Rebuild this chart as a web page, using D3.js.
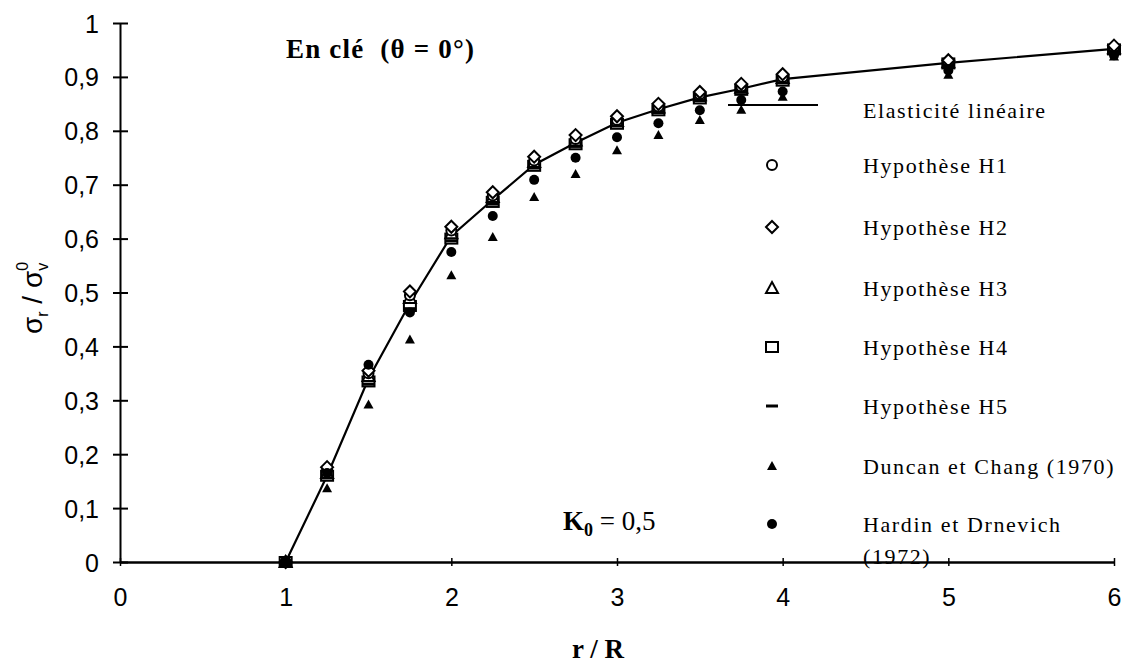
<!DOCTYPE html>
<html><head><meta charset="utf-8">
<script src="https://cdn.jsdelivr.net/npm/d3@7"></script>
<style>body{margin:0;background:#fff;} svg{display:block;}</style>
</head><body>
<svg id="chart" width="1135" height="668"></svg>
<script>
// ---- data ----
const rValues = [1, 1.25, 1.5, 1.75, 2, 2.25, 2.5, 2.75, 3, 3.25, 3.5, 3.75, 4, 5, 6];
const elastic = [0, 0.160, 0.340, 0.480, 0.605, 0.672, 0.737, 0.778, 0.815, 0.840, 0.862, 0.878, 0.896, 0.926, 0.952];
const h1 = [0, 0.172, 0.350, 0.495, 0.615, 0.680, 0.745, 0.785, 0.820, 0.845, 0.868, 0.882, 0.900, 0.928, 0.955];
const h2 = [0, 0.176, 0.355, 0.502, 0.622, 0.686, 0.752, 0.792, 0.827, 0.850, 0.872, 0.887, 0.905, 0.931, 0.958];
const h3 = [0, 0.165, 0.345, 0.490, 0.610, 0.677, 0.742, 0.782, 0.818, 0.843, 0.866, 0.880, 0.898, 0.927, 0.953];
const h4 = [0, 0.160, 0.335, 0.475, 0.600, 0.668, 0.735, 0.775, 0.813, 0.838, 0.860, 0.876, 0.893, 0.925, 0.951];
const h5 = [0, 0.156, 0.330, 0.470, 0.596, 0.664, 0.731, 0.771, 0.809, 0.834, 0.856, 0.872, 0.889, 0.921, 0.947];
const duncan = [0, 0.137, 0.292, 0.413, 0.532, 0.603, 0.677, 0.720, 0.764, 0.792, 0.820, 0.839, 0.863, 0.904, 0.938];
const hardin = [0, 0.165, 0.366, 0.463, 0.575, 0.642, 0.709, 0.750, 0.788, 0.814, 0.838, 0.857, 0.873, 0.912, 0.940];
const xTicks = [0, 1, 2, 3, 4, 5, 6];
const yTicks = [0, 0.1, 0.2, 0.3, 0.4, 0.5, 0.6, 0.7, 0.8, 0.9, 1];
const seriesNames = ["Elasticité linéaire", "Hypothèse H1", "Hypothèse H2", "Hypothèse H3", "Hypothèse H4", "Hypothèse H5", "Duncan et Chang (1970)", "Hardin et Drnevich"];

// ---- layout ----
const svg = d3.select("#chart");
const x = d3.scaleLinear().domain([0, 6]).range([120, 1114]);
const y = d3.scaleLinear().domain([0, 1]).range([562, 23]);
const sans = "'Liberation Sans', Arial, sans-serif";
const serif = "'Liberation Serif', 'Times New Roman', serif";
const fmt = v => String(v).replace(".", ",");

// axes
const yAxis = svg.append("g").attr("transform", "translate(120,0)")
  .call(d3.axisLeft(y).tickValues(yTicks).tickSize(7).tickSizeOuter(0).tickPadding(15).tickFormat(fmt));
yAxis.selectAll(".tick line").attr("x2", 8).attr("x1", -7).attr("stroke-width", 2);
yAxis.select(".domain").attr("stroke-width", 2);
yAxis.selectAll("text").attr("font-family", sans).attr("font-size", 25).attr("dy", "0.36em").attr("x", -21);

const xAxis = svg.append("g").attr("transform", "translate(0,562)")
  .call(d3.axisBottom(x).tickValues(xTicks).tickSize(4).tickSizeOuter(0).tickPadding(22).tickFormat(fmt));
xAxis.selectAll(".tick line").attr("y1", -4).attr("y2", 4).attr("stroke-width", 1.5);
xAxis.select(".domain").attr("stroke-width", 2.5);
xAxis.selectAll("text").attr("font-family", sans).attr("font-size", 25);

// elastic line
const pts = rValues.map((r, i) => [r, elastic[i]]);
svg.append("path").datum(pts)
  .attr("fill", "none").attr("stroke", "#000").attr("stroke-width", 2.2)
  .attr("d", d3.line().x(d => x(d[0])).y(d => y(d[1])));

// marker drawers
const markers = {
  circle: (g, cx, cy) => g.append("circle").attr("cx", cx).attr("cy", cy).attr("r", 5).attr("fill", "#fff").attr("stroke", "#000").attr("stroke-width", 2),
  diamond: (g, cx, cy) => g.append("path").attr("d", `M${cx},${cy-6}L${cx+6},${cy}L${cx},${cy+6}L${cx-6},${cy}Z`).attr("fill", "#fff").attr("stroke", "#000").attr("stroke-width", 2),
  triangle: (g, cx, cy) => g.append("path").attr("d", `M${cx},${cy-6}L${cx+6},${cy+5}L${cx-6},${cy+5}Z`).attr("fill", "#fff").attr("stroke", "#000").attr("stroke-width", 2),
  square: (g, cx, cy) => g.append("rect").attr("x", cx-6).attr("y", cy-5).attr("width", 12).attr("height", 10).attr("fill", "#fff").attr("stroke", "#000").attr("stroke-width", 2),
  dash: (g, cx, cy) => g.append("line").attr("x1", cx-6).attr("x2", cx+6).attr("y1", cy).attr("y2", cy).attr("stroke", "#000").attr("stroke-width", 3),
  ftriangle: (g, cx, cy) => g.append("path").attr("d", `M${cx},${cy-5}L${cx+5},${cy+4}L${cx-5},${cy+4}Z`).attr("fill", "#000"),
  fcircle: (g, cx, cy) => g.append("circle").attr("cx", cx).attr("cy", cy).attr("r", 5).attr("fill", "#000")
};
const series = [
  {vals: h4, m: "square"}, {vals: h3, m: "triangle"}, {vals: h1, m: "circle"}, {vals: h2, m: "diamond"},
  {vals: h5, m: "dash"}, {vals: duncan, m: "ftriangle"}, {vals: hardin, m: "fcircle"}
];
const gm = svg.append("g");
series.forEach(s => rValues.forEach((r, i) => markers[s.m](gm, x(r), y(s.vals[i]))));

// legend
const lg = svg.append("g");
const legendRows = [111, 166, 228, 289, 348, 407, 467, 525];
const legendMarkers = [null, "circle", "diamond", "triangle", "square", "dash", "ftriangle", "fcircle"];
lg.append("line").attr("x1", 728).attr("x2", 818).attr("y1", 105).attr("y2", 105).attr("stroke", "#000").attr("stroke-width", 2.2);
seriesNames.forEach((name, i) => {
  if (legendMarkers[i]) markers[legendMarkers[i]](lg, 772, legendRows[i] - 1);
  lg.append("text").attr("x", 863).attr("y", legendRows[i] + 7).attr("font-family", serif)
    .attr("font-size", 22).attr("letter-spacing", 1.6).text(name);
});
lg.append("text").attr("x", 863).attr("y", 564).attr("font-family", serif)
  .attr("font-size", 22).attr("letter-spacing", 1.6).text("(1972)");

// annotations
svg.append("text").attr("x", 286).attr("y", 58).attr("font-family", serif).attr("font-size", 27)
  .attr("font-weight", "bold").attr("letter-spacing", 1.2).attr("xml:space", "preserve").text("En clé  (θ = 0°)");
const k = svg.append("text").attr("x", 563).attr("y", 530).attr("font-family", serif).attr("font-size", 27)
  .attr("font-weight", "bold");
k.append("tspan").text("K");
k.append("tspan").attr("font-size", 18).attr("dy", 6).text("0");
k.append("tspan").attr("dy", -6).attr("font-weight", "normal").text(" = 0,5");

// axis titles
svg.append("text").attr("x", 598).attr("y", 658).attr("text-anchor", "middle").attr("font-family", serif)
  .attr("font-size", 27).attr("font-weight", "bold").attr("xml:space", "preserve").text("r / R");
const yt = svg.append("text").attr("transform", "translate(42,298) rotate(-90)").attr("text-anchor", "middle")
  .attr("font-family", sans).attr("font-size", 28);
yt.append("tspan").text("σ");
yt.append("tspan").attr("font-size", 16).attr("dy", 6).text("r");
yt.append("tspan").attr("dy", -6).text(" / σ");
yt.append("tspan").attr("font-size", 16).attr("dy", 6).text("v");
yt.append("tspan").attr("font-size", 16).attr("dx", -8).attr("dy", -20).text("0");
</script>
</body></html>
